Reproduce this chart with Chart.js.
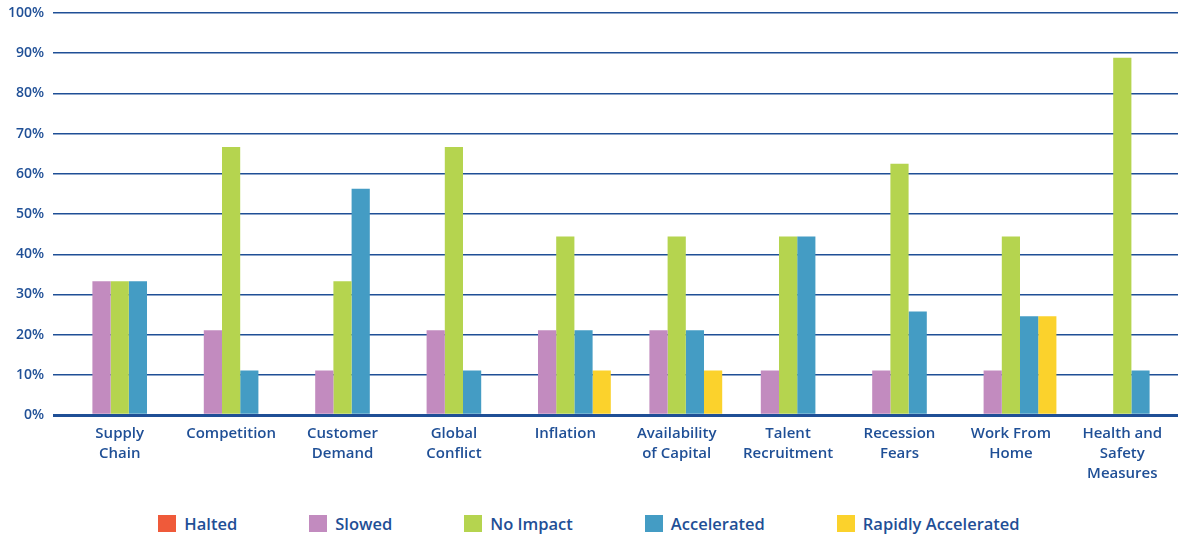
<!DOCTYPE html>
<html>
<head>
<meta charset="utf-8">
<script src="https://cdn.jsdelivr.net/npm/chart.js@4"></script>
<style>
  html, body { margin: 0; padding: 0; background: #fff; }
  #wrap { width: 1178px; height: 536px; overflow: hidden; }
  #myChart { display: block; }
  #legend {
    height: 40px;
    display: flex;
    justify-content: center;
    align-items: center;
    gap: 72px;
    padding: 14px 0 0 0;
    box-sizing: border-box;
    font-family: "Open Sans", Lato, sans-serif;
    font-weight: 600;
    font-size: 16.5px;
    color: #1f4f96;
  }
  #legend .item { display: flex; align-items: center; }
  #legend .box { width: 18px; height: 17px; margin-right: 8px; }
</style>
</head>
<body>
<div id="wrap">
  <canvas id="myChart" width="1178" height="496"></canvas>
  <div id="legend"></div>
</div>
<script>
// categories (multi-line labels are arrays)
var categories = [
    ['Supply', 'Chain'], 'Competition', ['Customer', 'Demand'], ['Global', 'Conflict'],
    'Inflation', ['Availability', 'of Capital'], ['Talent', 'Recruitment'], ['Recession', 'Fears'],
    ['Work From', 'Home'], ['Health and', 'Safety', 'Measures']
];

var halted      = [0, 0, 0, 0, 0, 0, 0, 0, 0, 0];
var slowed      = [33.3, 21.1, 11.1, 21.1, 21.1, 21.1, 11.1, 11.1, 11.1, 0];
var noImpact    = [33.3, 66.7, 33.3, 66.7, 44.4, 44.4, 44.4, 62.5, 44.4, 88.9];
var accelerated = [33.3, 11.1, 56.3, 11.1, 21.1, 21.1, 44.4, 25.8, 24.6, 11.1];
var rapidly     = [0, 0, 0, 0, 11.1, 11.1, 0, 0, 24.6, 0];

var seriesNames = ['Halted', 'Slowed', 'No Impact', 'Accelerated', 'Rapidly Accelerated'];
var yTicks = [0, 10, 20, 30, 40, 50, 60, 70, 80, 90, 100];

var colors = ['#ef5a3a', '#c28bbf', '#b5d44f', '#449cc4', '#fbd22c'];
var navy = '#1f4f96';
var fontFamily = '"Open Sans", Lato, sans-serif';

var seriesData = [halted, slowed, noImpact, accelerated, rapidly];
var datasets = seriesData.map(function(d, i){
    return {
        label: seriesNames[i],
        data: d,
        backgroundColor: colors[i],
        borderWidth: 0,
        barPercentage: 1,
        categoryPercentage: 0.817
    };
});

// zero line is drawn heavier than the rest of the grid
function gridWidth(c){
    return c.tick && c.tick.value === 0 ? 3 : 1.5;
}

var ctx = document.getElementById('myChart').getContext('2d');
var myChart = new Chart(ctx, {
    type: 'bar',
    data: { labels: categories, datasets: datasets },
    options: {
        responsive: false,
        animation: false,
        layout: { padding: { top: 13, left: 0, right: -6, bottom: 3 } },
        plugins: {
            tooltip: { enabled: false },
            legend: { display: false }
        },
        scales: {
            x: {
                grid: { display: false, drawTicks: false },
                border: { display: false },
                ticks: {
                    color: navy,
                    padding: 9,
                    maxRotation: 0,
                    autoSkip: false,
                    font: { family: fontFamily, size: 15, weight: '600', lineHeight: 1.33 }
                }
            },
            y: {
                min: 0,
                max: 100,
                afterBuildTicks: function(axis){
                    axis.ticks = yTicks.map(function(v){ return { value: v }; });
                },
                afterFit: function(axis){
                    axis.width = 64;
                    axis.paddingTop = 0;
                },
                grid: {
                    color: navy,
                    lineWidth: gridWidth,
                    tickWidth: gridWidth,
                    tickLength: 11
                },
                border: { display: false },
                ticks: {
                    color: navy,
                    padding: 9,
                    callback: function(v){ return v + '%'; },
                    font: { family: fontFamily, size: 14, weight: '600', lineHeight: 1 }
                }
            }
        }
    }
});

// legend built from the chart's datasets
var legendEl = document.getElementById('legend');
myChart.data.datasets.forEach(function(ds){
    var item = document.createElement('div');
    item.className = 'item';
    var box = document.createElement('span');
    box.className = 'box';
    box.style.background = ds.backgroundColor;
    var text = document.createElement('span');
    text.textContent = ds.label;
    item.appendChild(box);
    item.appendChild(text);
    legendEl.appendChild(item);
});
</script>
</body>
</html>
